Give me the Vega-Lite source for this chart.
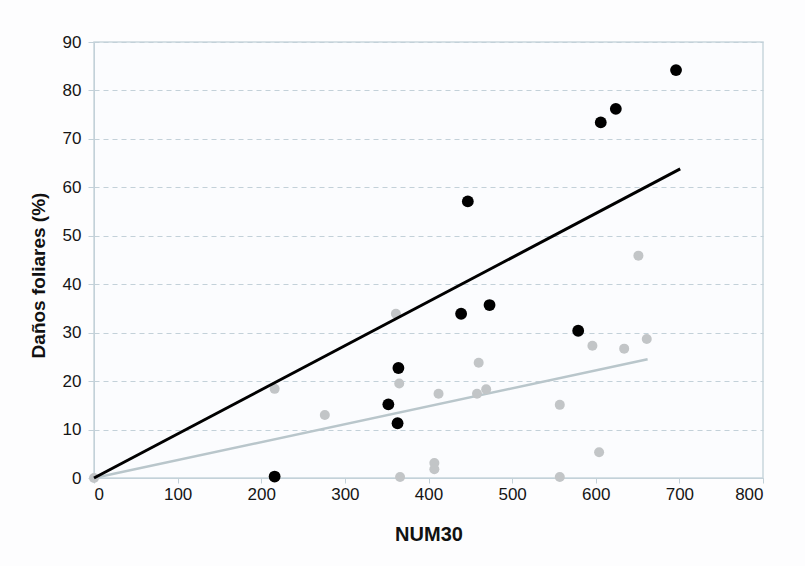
{
  "$schema": "https://vega.github.io/schema/vega-lite/v6.json",
  "autosize": "none",
  "width": 669,
  "height": 436,
  "padding": {"left": 94, "top": 42, "right": 42, "bottom": 88},
  "background": "#fdfdfe",
  "config": {
    "font": "Liberation Sans",
    "view": {"stroke": "#c9d6dd", "strokeWidth": 1.5, "fill": "#fbfcfe"}
  },
  "datasets": {
    "pts": [
      {"NUM30": 0, "dano": 0, "grupo": "gris"},
      {"NUM30": 216, "dano": 18.4, "grupo": "gris"},
      {"NUM30": 276, "dano": 13.0, "grupo": "gris"},
      {"NUM30": 361, "dano": 33.9, "grupo": "gris"},
      {"NUM30": 365, "dano": 19.5, "grupo": "gris"},
      {"NUM30": 366, "dano": 0.2, "grupo": "gris"},
      {"NUM30": 407, "dano": 3.1, "grupo": "gris"},
      {"NUM30": 407, "dano": 1.8, "grupo": "gris"},
      {"NUM30": 412, "dano": 17.4, "grupo": "gris"},
      {"NUM30": 458, "dano": 17.4, "grupo": "gris"},
      {"NUM30": 460, "dano": 23.8, "grupo": "gris"},
      {"NUM30": 469, "dano": 18.3, "grupo": "gris"},
      {"NUM30": 557, "dano": 15.1, "grupo": "gris"},
      {"NUM30": 557, "dano": 0.2, "grupo": "gris"},
      {"NUM30": 596, "dano": 27.3, "grupo": "gris"},
      {"NUM30": 604, "dano": 5.3, "grupo": "gris"},
      {"NUM30": 634, "dano": 26.7, "grupo": "gris"},
      {"NUM30": 651, "dano": 45.9, "grupo": "gris"},
      {"NUM30": 661, "dano": 28.7, "grupo": "gris"},
      {"NUM30": 216, "dano": 0.3, "grupo": "negro"},
      {"NUM30": 352, "dano": 15.2, "grupo": "negro"},
      {"NUM30": 363, "dano": 11.3, "grupo": "negro"},
      {"NUM30": 364, "dano": 22.7, "grupo": "negro"},
      {"NUM30": 439, "dano": 33.9, "grupo": "negro"},
      {"NUM30": 447, "dano": 57.1, "grupo": "negro"},
      {"NUM30": 473, "dano": 35.7, "grupo": "negro"},
      {"NUM30": 579, "dano": 30.4, "grupo": "negro"},
      {"NUM30": 606, "dano": 73.4, "grupo": "negro"},
      {"NUM30": 624, "dano": 76.2, "grupo": "negro"},
      {"NUM30": 696, "dano": 84.2, "grupo": "negro"}
    ],
    "lineas": [
      {"NUM30": 0, "dano": 0, "grupo": "gris"},
      {"NUM30": 662, "dano": 24.5, "grupo": "gris"},
      {"NUM30": 0, "dano": 0, "grupo": "negro"},
      {"NUM30": 701, "dano": 63.8, "grupo": "negro"}
    ]
  },
  "encoding": {
    "x": {
      "field": "NUM30", "type": "quantitative",
      "scale": {"domain": [0, 800], "nice": false},
      "axis": {
        "title": "NUM30", "values": [0,100,200,300,400,500,600,700,800],
        "grid": false, "domainColor": "#c3d1d9", "tickColor": "#c3d1d9", "tickSize": 5,
        "labelFontSize": 17, "labelColor": "#151515", "labelPadding": 3,
        "titleFontSize": 20, "titleFontWeight": "bold", "titleColor": "#111", "titlePadding": 22
      }
    },
    "y": {
      "field": "dano", "type": "quantitative",
      "scale": {"domain": [0, 90], "nice": false},
      "axis": {
        "title": "Daños foliares  (%)", "values": [0,10,20,30,40,50,60,70,80,90],
        "grid": true, "gridDash": [5, 4], "gridColor": "#c3d1d9", "gridWidth": 1,
        "domainColor": "#c3d1d9", "tickColor": "#c3d1d9", "tickSize": 6,
        "labelFontSize": 17, "labelColor": "#151515", "labelPadding": 7,
        "titleFontSize": 19, "titleFontWeight": "bold", "titleColor": "#111", "titlePadding": 14,
        "titleY": 233
      }
    }
  },
  "layer": [
    {
      "data": {"name": "lineas"},
      "transform": [{"filter": "datum.grupo == 'gris'"}],
      "mark": {"type": "line", "color": "#b9c6cb", "strokeWidth": 2.5}
    },
    {
      "data": {"name": "pts"},
      "transform": [{"filter": "datum.grupo == 'gris'"}],
      "mark": {"type": "circle", "color": "#c2c5c7", "opacity": 1, "size": 100}
    },
    {
      "data": {"name": "lineas"},
      "transform": [{"filter": "datum.grupo == 'negro'"}],
      "mark": {"type": "line", "color": "#000000", "strokeWidth": 3}
    },
    {
      "data": {"name": "pts"},
      "transform": [{"filter": "datum.grupo == 'negro'"}],
      "mark": {"type": "circle", "color": "#000000", "opacity": 1, "size": 140}
    }
  ]
}
